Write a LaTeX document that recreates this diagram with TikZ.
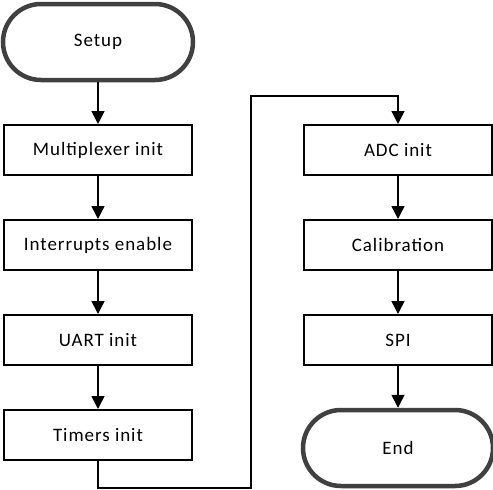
\documentclass[tikz,border=0pt]{standalone}
\usepackage{fontspec}
\setmainfont{Carlito}[LetterSpace=5]
\usetikzlibrary{arrows.meta}
\definecolor{termgray}{HTML}{404040}
\begin{document}
\begin{tikzpicture}[x=1pt,y=-1pt,
  font=\fontsize{19}{22}\selectfont,
  stepbox/.style={draw=black,line width=2pt,fill=white,minimum width=188pt,minimum height=50pt,inner sep=0pt},
  terminal/.style={draw=termgray,line width=4.5pt,fill=white,minimum width=190pt,minimum height=76pt,rounded corners=38pt,inner sep=0pt},
  flow/.style={line width=1.5pt,-{Triangle[width=13pt,length=13pt]}}]
\useasboundingbox (0,0) rectangle (493,490);
% left column
\node[terminal] (setup) at (98,42) {Setup};
\node[stepbox] (mux) at (98,150) {Multiplexer init};
\node[stepbox] (irq) at (98,245) {Interrupts enable};
\node[stepbox] (uart) at (98,340) {UART init};
\node[stepbox] (tim) at (98,435) {Timers init};
% right column
\node[stepbox] (adc) at (398,150) {ADC init};
\node[stepbox] (cal) at (398,245) {Calibration};
\node[stepbox] (spi) at (398,340) {SPI};
\node[terminal] (end) at (398,448) {End};
% routing corners between the columns
\coordinate (c1) at (98,488);
\coordinate (c2) at (251,488);
\coordinate (c3) at (251,96);
\coordinate (c4) at (398,96);
\draw[flow] (setup) -- (mux);
\draw[flow] (mux) -- (irq);
\draw[flow] (irq) -- (uart);
\draw[flow] (uart) -- (tim);
\draw[flow] (tim.south) -- (c1) -- (c2) -- (c3) -- (c4) -- (adc.north);
\draw[flow] (adc) -- (cal);
\draw[flow] (cal) -- (spi);
\draw[flow] (spi) -- (end);
\end{tikzpicture}
\end{document}
